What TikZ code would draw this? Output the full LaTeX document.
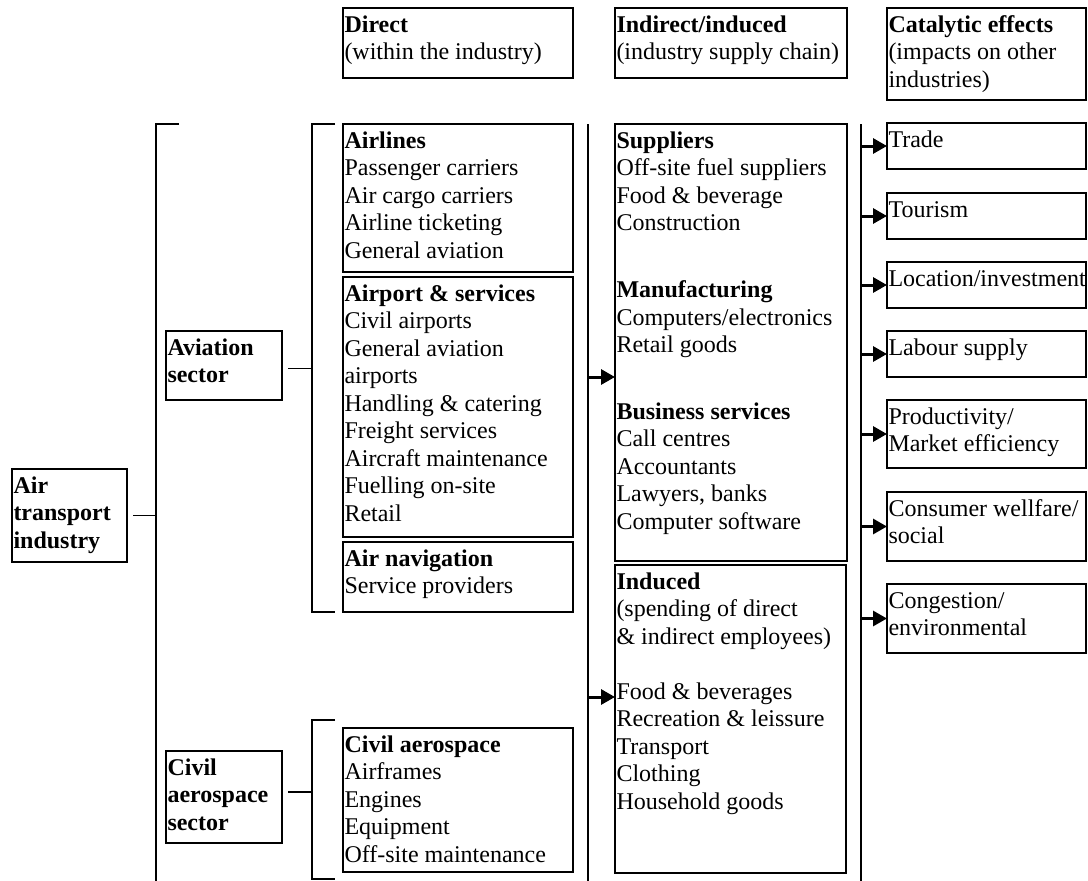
\documentclass[tikz,border=0pt]{standalone}
\usepackage{fontspec}
\setmainfont{Liberation Serif}
\usetikzlibrary{arrows.meta,calc}
\newcommand\mybox[6]{%
  \node[box, minimum width={#4-#2}, minimum height={#5-#3}] (#1) at ({(#2+#4)/2},{(#3+#5)/2}) {};
  \node[txt] (#1t) at ($(#1.north west)+(1.5,0)$) {\rule{0pt}{24pt}#6};}
\begin{document}
\begin{tikzpicture}[x=1pt,y=-1pt,
  box/.style={draw, line width=1.8pt, inner sep=0pt, outer sep=0pt},
  txt/.style={anchor=north west, inner sep=0pt, outer sep=0pt, align=left, font=\fontsize{24}{27.5}\selectfont},
  ln/.style={line width=1.5pt},
  arr/.style={line width=3pt, -{Triangle[length=14pt,width=15pt]}}]
\useasboundingbox (0,0) rectangle (1088,881);
% headers
\mybox{hd}{343}{8}{573}{78}{\textbf{Direct}\\(within the industry)}
\mybox{hi}{615}{8}{847}{78}{\textbf{Indirect/induced}\\(industry supply chain)}
\mybox{hc}{887}{8}{1086}{100}{\textbf{Catalytic effects}\\(impacts on other\\industries)}
% left
\mybox{ati}{12}{469}{127}{562}{\textbf{Air}\\\textbf{transport}\\\textbf{industry}}
\mybox{avs}{166}{331}{282}{400}{\textbf{Aviation}\\\textbf{sector}}
\mybox{cas}{166}{751}{282}{843}{\textbf{Civil}\\\textbf{aerospace}\\\textbf{sector}}
% direct
\mybox{al}{343}{124}{573}{272}{\textbf{Airlines}\\Passenger carriers\\Air cargo carriers\\Airline ticketing\\General aviation}
\mybox{ap}{343}{277}{573}{537}{\textbf{Airport \& services}\\Civil airports\\General aviation\\airports\\Handling \& catering\\Freight services\\Aircraft maintenance\\Fuelling on-site\\Retail}
\mybox{an}{343}{542}{573}{612}{\textbf{Air navigation}\\Service providers}
\mybox{ca}{343}{728}{573}{872}{\textbf{Civil aerospace}\\Airframes\\Engines\\Equipment\\Off-site maintenance}
% indirect
\mybox{su}{615}{124}{847}{561}{\textbf{Suppliers}\\Off-site fuel suppliers\\Food \& beverage\\Construction\\[39.5pt]\textbf{Manufacturing}\\Computers/electronics\\Retail goods\\[39pt]\textbf{Business services}\\Call centres\\Accountants\\Lawyers, banks\\Computer software}
\mybox{ind}{615}{565}{846}{873}{\textbf{Induced}\\(spending of direct\\\& indirect employees)\\[27.5pt]Food \& beverages\\Recreation \& leissure\\Transport\\Clothing\\Household goods}
% catalytic
\mybox{tr}{887}{123}{1086}{169}{Trade}
\mybox{to}{887}{193}{1086}{239}{Tourism}
\mybox{lo}{887}{262}{1086}{308}{Location/investment}
\mybox{la}{887}{331}{1086}{377}{Labour supply}
\mybox{pr}{887}{400}{1086}{468}{Productivity/\\Market efficiency}
\mybox{co}{887}{492}{1086}{561}{Consumer wellfare/\\social}
\mybox{cg}{887}{584}{1086}{653}{Congestion/\\environmental}
% brackets
\coordinate (b1t) at (156,124); \coordinate (b1b) at (156,881);
\draw[ln] ($(b1t)+(23,0)$) -- (b1t) -- (b1b);
\coordinate (b2t) at (312,124); \coordinate (b2b) at (312,612);
\draw[ln] ($(b2t)+(23,0)$) -- (b2t) -- (b2b) -- ($(b2b)+(23,0)$);
\coordinate (b3t) at (312,720); \coordinate (b3b) at (312,879);
\draw[ln] ($(b3t)+(23,0)$) -- (b3t) -- (b3b) -- ($(b3b)+(23,0)$);
\draw[ln] ([xshift=6pt]ati.east) -- (ati.east -| b1t);
\draw[ln] ([xshift=6pt,yshift=-3pt]avs.east) -- ([yshift=-3pt]avs.east -| b2t);
\draw[ln] ([xshift=6pt,yshift=5pt]cas.east) -- ([yshift=5pt]cas.east -| b3t);
% vertical lines
\coordinate (vL) at (588,124); \coordinate (vLb) at (588,881);
\coordinate (vR) at (861,124); \coordinate (vRb) at (861,881);
\draw[ln] (vL) -- (vLb);
\draw[ln] (vR) -- (vRb);
% arrows
\coordinate (a1) at (588,377); \coordinate (a2) at (588,697);
\draw[arr] (a1) -- (a1 -| su.west);
\draw[arr] (a2) -- (a2 -| ind.west);
\foreach \n in {tr,to,lo,la,pr,co,cg}{\draw[arr] (\n.west -| vR) -- (\n.west);}
\end{tikzpicture}
\end{document}
